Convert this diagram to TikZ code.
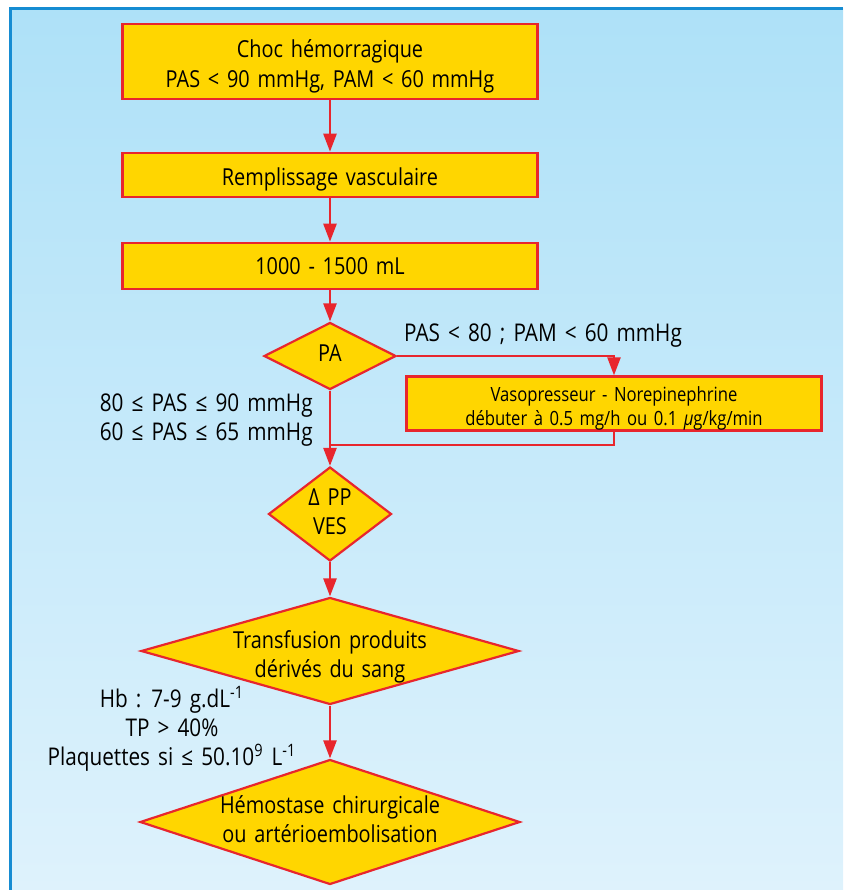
\documentclass[tikz,border=0pt]{standalone}
\usepackage{fontspec}
\setmainfont{Open Sans}[FakeStretch=0.85,WordSpace=1.5]
\usetikzlibrary{shapes.geometric,arrows.meta}

\definecolor{boxyellow}{RGB}{255,214,0}
\definecolor{linered}{RGB}{232,38,45}
\definecolor{bgtop}{RGB}{174,225,248}
\definecolor{bgbottom}{RGB}{222,242,252}
\definecolor{frameblue}{RGB}{22,140,210}

% text of a decision node, kept at zero width so the diamond keeps its size
\newcommand{\dtext}[1]{\makebox[0pt]{\begin{tabular}{@{}c@{}}#1\end{tabular}}}
% pushes the first line of a box a little lower
\newcommand{\lowstrut}[1]{\rule{0pt}{#1}}

\begin{document}
\begin{tikzpicture}[x=0.5pt,y=-0.5pt,
    stepbox/.style={draw=linered, fill=boxyellow, line width=1.3pt, inner sep=0pt,
      minimum width=207.5pt, align=center, font=\fontsize{11.7}{15}\selectfont},
    smallbox/.style={stepbox, font=\fontsize{9.8}{12}\selectfont},
    decision/.style={shape=diamond, draw=linered, fill=boxyellow, line width=1.1pt,
      inner sep=0pt, font=\fontsize{11.7}{14.5}\selectfont},
    lbl/.style={inner sep=0pt, align=center, font=\fontsize{12.2}{14.5}\selectfont},
    link/.style={draw=linered, line width=1.2pt},
    arr/.style={link, -{Triangle[length=9pt,width=6.5pt]}}]
  \useasboundingbox (0,0) rectangle (843,890);

  % background and frame
  \shade [top color=bgtop, bottom color=bgbottom] (10.5,8.5) rectangle (843,890);
  \draw [frameblue, line width=1.5pt] (10.5,890) -- (10.5,8.5) -- (843,8.5);

  % main column
  \node [stepbox, minimum height=37.5pt] (shock) at (330,61.5)
    {\lowstrut{13.5pt}Choc hémorragique\\PAS < 90 mmHg, PAM < 60 mmHg};
  \node [stepbox, minimum height=22pt] (filling) at (330,175)
    {\lowstrut{13.5pt}Remplissage vasculaire};
  \node [stepbox, minimum height=23pt] (volume) at (330,266) {1000 - 1500 mL};
  \node [decision, minimum width=66pt, minimum height=33.5pt] (pa) at (330,356) {\dtext{PA}};
  \node [smallbox, minimum height=26.5pt] (vaso) at (614,403.5)
    {\lowstrut{12.5pt}Vasopresseur - Norepinephrine\\débuter à 0.5 mg/h ou 0.1 {\itshape µ}g/kg/min};
  \node [decision, minimum width=61.5pt, minimum height=47pt] (delta) at (330,514)
    {\dtext{Δ PP\\VES}};
  \node [decision, minimum width=189pt, minimum height=53.5pt] (transf) at (330,651)
    {\dtext{\lowstrut{16pt}Transfusion produits\\dérivés du sang}};
  \node [decision, minimum width=190pt, minimum height=62.5pt] (hemo) at (330,822)
    {\dtext{Hémostase chirurgicale\\ou artérioembolisation}};

  % branch labels
  \node [lbl] (lowpa) at (543,336) {PAS < 80 ; PAM < 60 mmHg};
  \node [lbl, align=right, anchor=east] (okpa) at (313,420.5)
    {80 ≤ PAS ≤ 90 mmHg\\60 ≤ PAS ≤ 65 mmHg};
  \node [lbl] (targets) at (172,728.5)
    {Hb : 7-9 g.dL\textsuperscript{-1}\\TP > 40\%\\Plaquettes si ≤ 50.10\textsuperscript{9} L\textsuperscript{-1}};

  % connectors
  \coordinate (join) at (330,445);
  \draw [arr] (shock) -- (filling);
  \draw [arr] (filling) -- (volume);
  \draw [arr] (volume) -- (pa);
  \draw [arr] (pa.east) -| (vaso.north);
  \draw [link] (vaso.south) |- (join);
  \draw [arr] (pa) -- (delta);
  \draw [arr] (delta) -- (transf);
  \draw [arr] (transf) -- (hemo);
\end{tikzpicture}
\end{document}
